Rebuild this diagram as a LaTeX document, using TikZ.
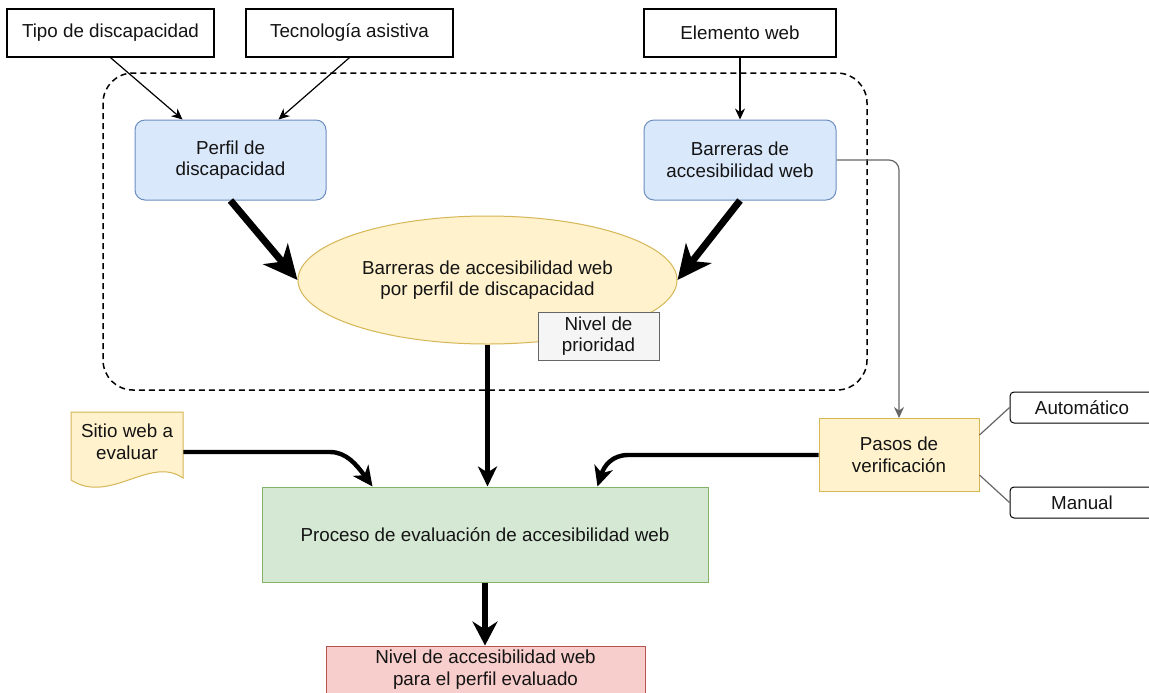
\documentclass[tikz,border=0pt]{standalone}
\usepackage{fontspec}
\setmainfont{Liberation Sans}
\usetikzlibrary{arrows.meta,shapes.geometric,calc}
\definecolor{bluefill}{HTML}{DAE8FC}
\definecolor{blueline}{HTML}{6C8EBF}
\definecolor{yellowfill}{HTML}{FFF2CC}
\definecolor{yellowline}{HTML}{D6B656}
\definecolor{greenfill}{HTML}{D5E8D4}
\definecolor{greenline}{HTML}{82B366}
\definecolor{redfill}{HTML}{F8CECC}
\definecolor{redline}{HTML}{B85450}
\definecolor{grayfill}{HTML}{F5F5F5}
\definecolor{grayline}{HTML}{666666}
\begin{document}
\begin{tikzpicture}[x=0.5pt,y=-0.5pt,
  every node/.style={font=\fontsize{9.4}{10.75}\selectfont, align=center, inner sep=0pt, text=black!92},
  plainbox/.style={draw=black, line width=0.6pt, fill=white, minimum height=24pt},
  bluebox/.style={draw=blueline, fill=bluefill, line width=0.5pt, rounded corners=5pt, minimum width=96pt, minimum height=40pt},
  yellowbox/.style={draw=yellowline, fill=yellowfill, line width=0.5pt},
  optbox/.style={draw=black, line width=0.5pt, fill=white, rounded corners=2pt, minimum width=72pt, minimum height=15.5pt},
  thinarrow/.style={line width=0.6pt, -{Stealth[length=5.5pt,width=5pt]}},
  grayarrow/.style={draw=grayline, line width=0.6pt, -{Stealth[length=5.5pt,width=5pt]}},
  grayline/.style={draw=grayline, line width=0.6pt},
  bigarrow/.style={line width=3.5pt, -{Stealth[length=17pt,width=16pt,inset=5pt]}},
  midarrow/.style={line width=2.2pt, -{Stealth[length=10pt,width=9.5pt,inset=3pt]}},
  downarrow/.style={line width=3pt, -{Stealth[length=12pt,width=12.5pt,inset=4pt]}},
]
\clip (0,0) rectangle (1149,692);
\fill[white] (0,0) rectangle (1149,692);

% dashed container
\draw[line width=0.75pt, dash pattern=on 3pt off 2pt, rounded corners=15pt] (103,73) rectangle (867,390);

% top inputs
\node[plainbox, minimum width=103.5pt] (tipo) at (110.5,33) {Tipo de discapacidad};
\node[plainbox, minimum width=103.5pt] (tec) at (349.5,33) {Tecnología asistiva};
\node[plainbox, minimum width=96pt] (elem) at (740,33) {Elemento web};

% blue boxes
\node[bluebox, minimum width=95.5pt] (perfil) at (230.5,160) {Perfil de\\discapacidad};
\node[bluebox] (barr) at (740,160) {Barreras de\\accesibilidad web};

% ellipse
\node[ellipse, draw=yellowline, fill=yellowfill, line width=0.5pt, minimum width=189.5pt, minimum height=64pt] (ell) at (487.5,280) {Barreras de accesibilidad web\\por perfil de discapacidad};

% priority label
\node[draw=grayline, fill=grayfill, line width=0.5pt, minimum width=60.5pt, minimum height=24pt] (prio) at (598.5,336) {Nivel de\\prioridad};

% process
\node[draw=greenline, fill=greenfill, line width=0.5pt, minimum width=223pt, minimum height=47.5pt] (proc) at (485,534.5) {Proceso de evaluación de accesibilidad web};

% output
\node[draw=redline, fill=redfill, line width=0.5pt, minimum width=159.5pt, minimum height=30pt] (out) at (485.5,676) {};
\node (outtext) at ($(out.north)+(0,24)$) {Nivel de accesibilidad web\\ para el perfil evaluado};

% document
\draw[yellowbox] (71,412) -- (183,412) -- (183,478) .. controls (150,455) and (110,505) .. (71,480) -- cycle;
\node[minimum width=56pt] (doc) at (127,442) {Sitio web a\\evaluar};

% verification steps
\node[yellowbox, minimum width=80pt, minimum height=36.5pt] (pasos) at (899,455) {Pasos de\\verificación};
\node[optbox] (auto) at (1082,407.5) {Automático};
\node[optbox] (manual) at (1082,502.5) {Manual};

% thin connectors
\draw[thinarrow] (tipo.south) -- ($(perfil.north)+(-48,0)$);
\draw[thinarrow] (tec.south) -- ($(perfil.north)+(48,0)$);
\draw[thinarrow] (elem.south) -- (barr.north);
\draw[grayarrow, rounded corners=5pt] (barr.east) -| (pasos.north);
\draw[grayline] ($(pasos.east)+(0,-20)$) -- (auto.west);
\draw[grayline] ($(pasos.east)+(0,20)$) -- (manual.west);

% thick connectors
\draw[bigarrow] (perfil.south) -- (ell.west);
\draw[bigarrow] (barr.south) -- (ell.east);
\draw[midarrow] (ell.south) -- (ell.south |- proc.north);
\draw[midarrow] ($(doc.east)+(0,10)$) -- (330,452) .. controls (346,452) and (356,464) .. ($(proc.north west)+(111,0)$);
\draw[midarrow] (pasos.west) -- (628,455) .. controls (612,455) and (604,466) .. ($(proc.north west)+(336,0)$);
\draw[downarrow] (proc.south) -- (out.north -| proc.south);
\end{tikzpicture}
\end{document}
